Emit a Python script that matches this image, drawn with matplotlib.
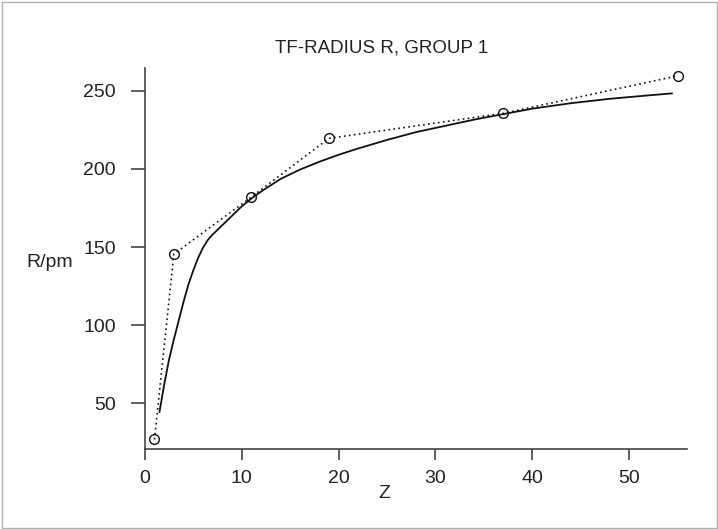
import matplotlib
matplotlib.use("Agg")
import matplotlib.pyplot as plt
from matplotlib.patches import Rectangle

plt.rcParams['font.family'] = ['Liberation Sans', 'DejaVu Sans']

# Data: group 1 elements (Z, radius in pm)
z_points = [1, 3, 11, 19, 37, 55]
r_points = [27, 145.5, 182, 219.5, 235.5, 259.5]

# Smooth TF curve
z_curve = [1.5, 2, 2.5, 3, 3.5, 4, 4.5, 5, 5.5, 6, 6.5, 7, 8, 9, 10, 11, 12, 13, 14,
           16, 18, 20, 22, 25, 28, 31, 34, 37, 40, 44, 48, 52, 54.5]
r_curve = [44, 62, 78, 91, 103, 115, 126, 135, 143, 149.5, 154.5, 158, 164, 170, 176,
           181, 185.5, 189.5, 193.5, 199.5, 204.5, 209, 213, 218.5, 223.5, 227.5, 231.5,
           235, 238.5, 242, 244.8, 247, 248.3]

x_ticks = [0, 10, 20, 30, 40, 50]
y_ticks = [50, 100, 150, 200, 250]

W, H = 718, 529
fig = plt.figure(figsize=(W / 100, H / 100), dpi=100)
fig.patches.append(Rectangle((1.5 / W, 1.5 / H), (W - 3) / W, (H - 3) / H,
                             transform=fig.transFigure, fill=False,
                             edgecolor='#b0b0b0', linewidth=1.0))

ax = fig.add_axes([144.8 / W, (H - 449.3) / H, (687.3 - 144.8) / W, (449.3 - 68.3) / H])
ink = '#222222'
ax.plot(z_curve, r_curve, color='#111111', linewidth=1.3, solid_capstyle='butt',
        solid_joinstyle='round')
ax.plot(z_points, r_points, color='#111111', linewidth=1.2, linestyle=(0, (1, 2)),
        marker='o', markersize=7, markerfacecolor='none', markeredgecolor='#111111',
        markeredgewidth=1.0)

ax.set_xlim(0, 56)
ax.set_ylim(20.7, 264.3)
ax.set_xticks(x_ticks)
ax.set_yticks(y_ticks)
for s in ['top', 'right']:
    ax.spines[s].set_visible(False)
for s in ['left', 'bottom']:
    ax.spines[s].set_color('#444444')
    ax.spines[s].set_linewidth(1.2)
ax.tick_params(axis='y', length=10, width=1.2, color='#444444', labelsize=14,
               labelcolor=ink, pad=11)
ax.tick_params(axis='x', length=8, width=1.2, color='#444444', labelsize=14,
               labelcolor=ink, pad=7)

fig.text(382 / W, 1 - 48 / H, 'TF-RADIUS R, GROUP 1', ha='center', va='center',
         fontsize=13.5, color=ink)
fig.text(26 / W, 1 - 262 / H, 'R/pm', ha='left', va='center', fontsize=14, color=ink)
fig.text(384 / W, 1 - 494 / H, 'Z', ha='center', va='center', fontsize=14, color=ink)

fig.savefig('out.png', dpi=100)
